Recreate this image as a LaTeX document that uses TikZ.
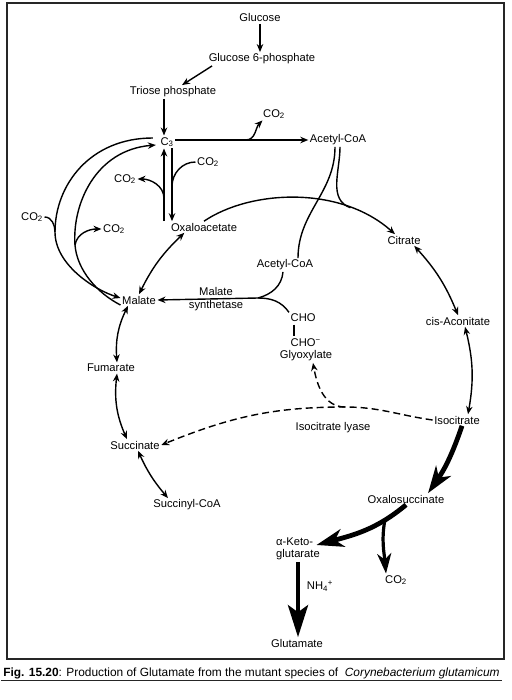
\documentclass[tikz,border=0pt]{standalone}
\usepackage{fontspec}
\setmainfont{Liberation Sans}
\usepackage{tikz}
\usetikzlibrary{positioning,arrows.meta}
\newcommand{\COt}{CO\textsubscript{2}}
\tikzset{
  rxn/.style={-{Stealth[length=8pt,width=6.5pt]},line width=1.4pt},
  rev/.style={{Stealth[length=8pt,width=6.5pt]}-{Stealth[length=8pt,width=6.5pt]},line width=1.4pt},
  lnk/.style={line width=1.4pt},
  lyase/.style={-{Stealth[length=8pt,width=6.5pt]},line width=1.4pt,dash pattern=on 7pt off 4pt},
  bigarr/.style={-{Stealth[length=27pt,width=18pt,inset=8pt]},line width=4.8pt}, % main flux to glutamate
  gluarr/.style={-{Stealth[length=32pt,width=20pt,inset=7pt]},line width=4.5pt},
  medarr/.style={-{Stealth[length=20pt,width=14pt,inset=6pt]},line width=3.2pt},
  met/.style={inner sep=1.5pt},
  frm/.style={line width=1.4pt,black!85},
}

\begin{document}
\begin{tikzpicture}[x=1pt,y=1pt,font=\fontsize{11.2}{12.5}\selectfont]
  \useasboundingbox (0,0) rectangle (511,-700);
  \draw[frm] (7,-3) rectangle (504,-659);
  % glycolysis
  \node[met] (glc) at (260,-18) {Glucose};
  \node[met] (gsix) at (262,-59) {Glucose 6-phosphate};
  \node[met] (triose) at (173,-92) {Triose phosphate};
  \node[met] (cthree) at (167,-142) {C\textsubscript{3}};
  \node[met] (acoa) at (338,-140) {Acetyl-CoA};
  \node[met] (cotwoa) at (274,-114) {\COt};
  \draw[rxn] (glc.south) -- (glc.south |- gsix.north);
  \draw[rxn] ([xshift=5pt]gsix.south west) -- ([xshift=9pt]triose.north);
  \coordinate (cin) at ([xshift=-3pt]cthree.north);
  \draw[rxn] (cin |- triose.south) -- (cin);
  \draw[rxn] (cthree.east |- acoa.west) -- (acoa.west) coordinate[pos=0.53] (brA);
  \draw[rxn] (brA) to[out=0,in=-135] ([xshift=1pt]cotwoa.south west);
  % C3 <-> oxaloacetate
  \node[met] (oaa) at (204,-227) {Oxaloacetate};
  \node[met] (cotwob) at (208,-162) {\COt};
  \node[met] (cotwod) at (125,-179) {\COt};
  \coordinate (cup) at ([xshift=-3pt]cthree.south);
  \coordinate (cdn) at ([xshift=5pt]cthree.south);
  \draw[rxn] (cup |- oaa.north) -- (cup);
  \draw[rxn] (cdn) -- (cdn |- oaa.north);
  \draw[lnk] (cotwob.west) to[out=180,in=90] ([yshift=-38pt]cdn);
  \draw[rxn] ([yshift=-50pt]cup) to[out=90,in=0] (cotwod.east);
  % C3 <-> malate
  \node[met] (mal) at (139,-300) {Malate};
  \node[met] (cotwoe) at (32,-217) {\COt};
  \node[met] (cotwof) at (114,-229) {\COt};
  \coordinate (otop) at ([xshift=-6pt,yshift=4pt]cthree.west);
  \coordinate (itop) at ([xshift=-3pt,yshift=-3pt]cthree.west);
  \coordinate (olft) at (55,-232);
  \coordinate (ibr) at (75,-245);
  \draw[rxn] (otop) .. controls (90,-138) and (55,-185) .. (olft)
    .. controls (55,-265) and (95,-290) .. ([yshift=2pt]mal.west);
  \draw[rxn] ([yshift=-5pt]mal.west) .. controls (97,-293) and (77,-270) .. (ibr)
    .. controls (72,-205) and (95,-150) .. (itop);
  \draw[lnk] (cotwoe.east) to[out=0,in=90] (olft);
  \draw[rxn] (ibr) to[out=80,in=180] (cotwof.west);
  \draw[rev] ([xshift=15pt]oaa.south west) to[bend right=10] (mal.north);
  % glyoxylate shunt
  \node[met] (acoatwo) at (285,-265) {Acetyl-CoA};
  \node[met,anchor=west] (cho) at (289,-318) {CHO};
  \node[met,anchor=west] (chom) at (289,-343) {CHO\textsuperscript{−}};
  \node[met] (glyox) at (306,-356) {Glyoxylate};
  \node[met,align=center] (syn) at (216,-299) {Malate\\[1pt]synthetase};
  \draw[lnk,shorten <=1pt,shorten >=1pt] ([xshift=5pt]cho.south west) -- ([xshift=5pt]chom.north west);
  \coordinate (jn) at (258,-298);
  \draw[rxn] (jn) -- (mal.east);
  \draw[lnk] (jn) to[out=15,in=-95] ([xshift=-2pt]acoatwo.south);
  \draw[lnk] (jn) to[out=0,in=125] (cho.north west);
  % TCA cycle
  \node[met] (cit) at (404,-240) {Citrate};
  \node[met] (cisac) at (458,-321) {cis-Aconitate};
  \node[met] (isocit) at (457,-420) {Isocitrate};
  \node[met] (oxs) at (406,-499) {Oxalosuccinate};
  \node[met] (fum) at (111,-368) {Fumarate};
  \node[met] (suc) at (135,-445) {Succinate};
  \node[met] (succoa) at (187,-505) {Succinyl-CoA};
  \draw[rxn] (oaa.north) .. controls (250,-190) and (340,-185) .. ([xshift=-9pt]cit.north)
    coordinate[pos=0.76] (mrg);
  \draw[lnk] ([xshift=-3pt]acoa.south) to[out=-90,in=90] ([xshift=13pt]acoatwo.north);
  \draw[lnk] ([xshift=2pt]acoa.south) to[out=-90,in=160] (mrg);
  \draw[rev] ([xshift=-8pt]cit.south east) to[bend left=10] (cisac.north);
  \draw[rev] ([xshift=7pt]cisac.south) to[bend left=12] ([xshift=11pt]isocit.north);
  \draw[rev] ([xshift=-11pt]mal.south) to[bend right=15] ([xshift=6pt]fum.north);
  \draw[rev] ([xshift=6pt]fum.south) to[bend right=15] ([xshift=-8pt]suc.north);
  \draw[rev] ([xshift=3pt]suc.south) to[bend right=8] ([xshift=-19pt]succoa.north);
  % isocitrate lyase
  \node[met] (lylbl) at (333,-428) {Isocitrate lyase};
  \coordinate (spl) at (345,-407);
  \draw[lyase] (isocit.west) to[out=172,in=0] (spl) to[out=180,in=22] (suc.east);
  \draw[lyase] (spl) to[out=180,in=-80] ([xshift=7pt]glyox.south);
  % to glutamate
  \node[met,align=left] (akg) at (298,-549) {α-Keto-\\glutarate};
  \node[met] (cotwoc) at (396,-580) {\COt};
  \node[met] (nh) at (320,-586) {NH\textsubscript{4}\textsuperscript{+}};
  \node[met] (glu) at (297,-643) {Glutamate};
  \draw[bigarr] ([xshift=5pt]isocit.south) to[bend left=8] ([xshift=22pt]oxs.north);
  \draw[bigarr] (oxs.south) to[out=-140,in=15] coordinate[pos=0.25] (obr)
    ([xshift=-5pt,yshift=4pt]akg.east);
  \draw[medarr] (obr) to[out=-100,in=95] ([xshift=-10pt]cotwoc.north);
  \draw[gluarr] (akg.south) -- (akg.south |- glu.north);
  % caption
  \node[inner sep=2pt,font=\fontsize{11.9}{13}\selectfont] (cap) at (251.5,-673)
    {\textbf{Fig. 15.20}: Production of Glutamate from the mutant species of \ \textit{Corynebacterium glutamicum}};
  \draw[frm] (cap.south west) -- (cap.south east);
\end{tikzpicture}
\end{document}
